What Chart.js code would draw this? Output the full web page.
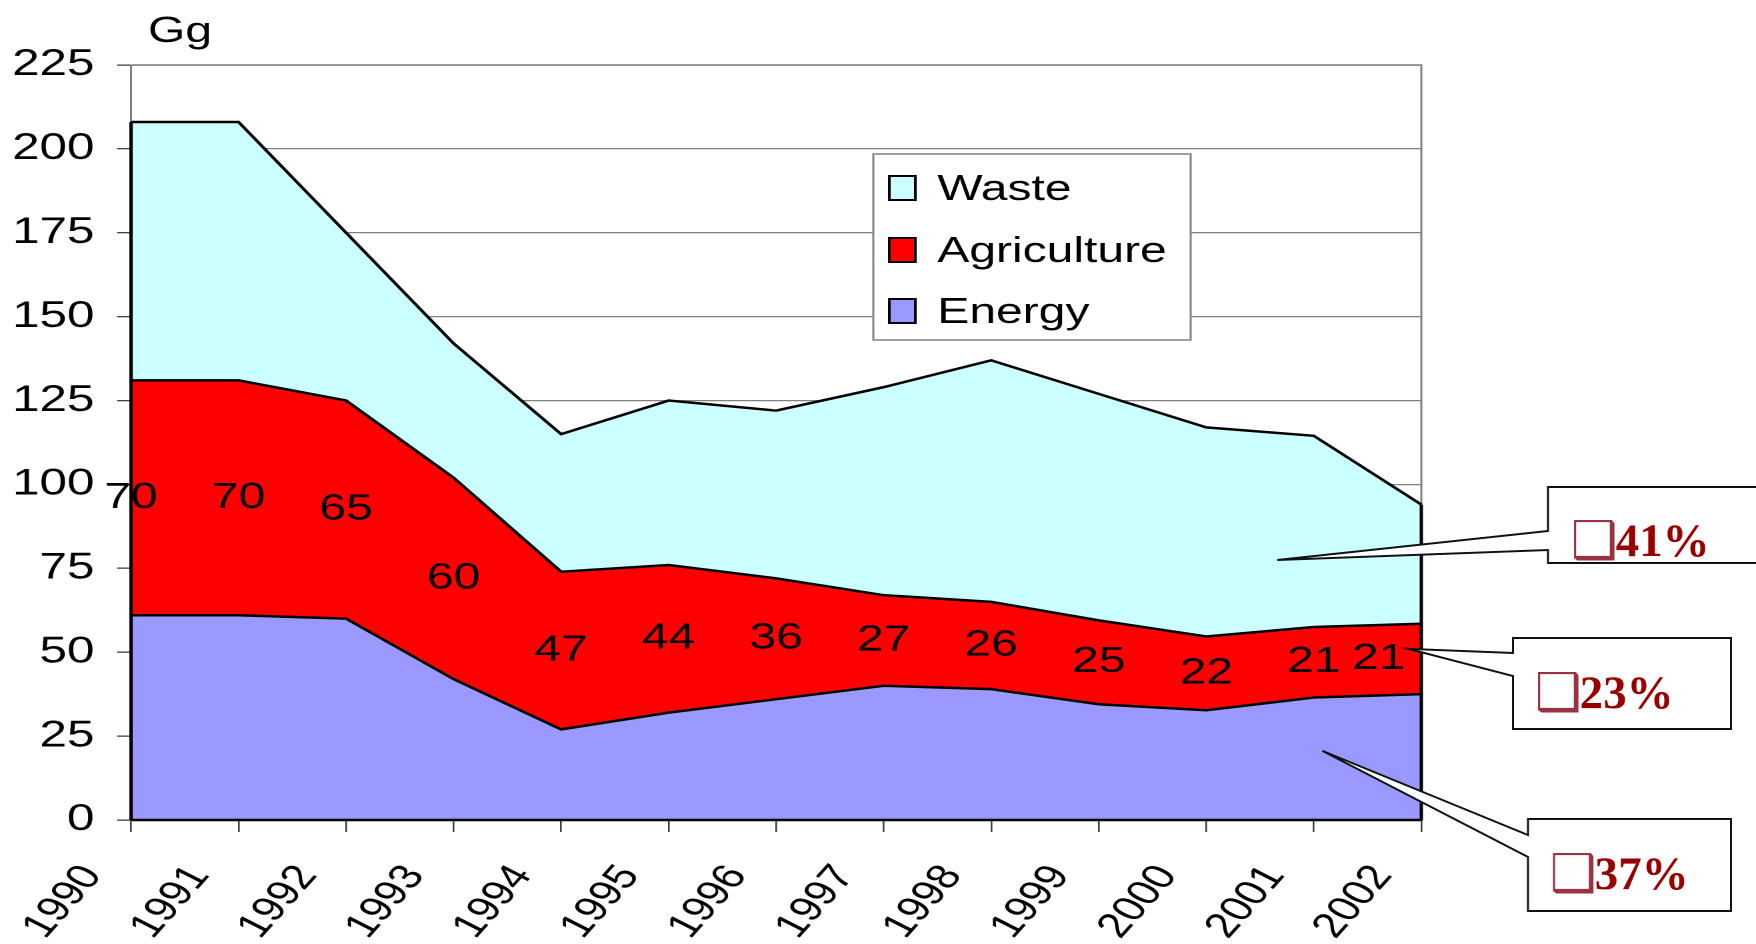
<!DOCTYPE html>
<html>
<head>
<meta charset="utf-8">
<script src="https://cdn.jsdelivr.net/npm/chart.js@4/dist/chart.umd.min.js"></script>
<style>
html,body{margin:0;padding:0;background:#fff;overflow:hidden}
canvas{display:block}
</style>
</head>
<body>
<canvas id="c" width="1317" height="944" style="width:1756px;height:944px"></canvas>
<script>
// ---- data ----
const years = ['1990','1991','1992','1993','1994','1995','1996','1997','1998','1999','2000','2001','2002'];
const energy = [61, 61, 60, 42, 27, 32, 36, 40, 39, 34.5, 32.7, 36.5, 37.5];
const agriculture = [70, 70, 65, 60, 47, 44, 36, 27, 26, 25, 22, 21, 21];
const waste = [77, 77, 50, 40, 41, 49, 50, 62, 72, 67.5, 62.3, 57, 35.5];
const seriesNames = ['Energy', 'Agriculture', 'Waste'];
const shareLabels = ['41%', '23%', '37%'];
const yTicks = [0, 25, 50, 75, 100, 125, 150, 175, 200, 225];
const unitLabel = 'Gg';

// ---- layout / styles ----
const S = 1756 / 1317; // the chart picture is stretched horizontally
const FONT = '"Liberation Sans", Arial, sans-serif';
const colors = ['#9999FF', '#FF0000', '#CCFFFF'];
// callouts (in display pixels), tip anchors in data units (category index, value)
const calloutLayout = [
  {tipIdx: 10.66, tipVal: 77.5, L: 1548, T: 487, R: 1800, B: 563, yUp: 531, yLow: 550, tx: 1571, ty: 556},
  {tipIdx: 11.88, tipVal: 51,   L: 1513, T: 638, R: 1731, B: 729, yUp: 653, yLow: 676, tx: 1535, ty: 708},
  {tipIdx: 11.08, tipVal: 20.6, L: 1528, T: 819, R: 1731, B: 911, yUp: 835, yLow: 857, tx: 1550, ty: 889}
];

const overlay = {
  id: 'overlay',
  beforeDatasetsDraw(chart) {
    const {ctx, chartArea: a} = chart;
    ctx.save();
    ctx.strokeStyle = '#808080';
    ctx.lineWidth = 1.5;
    ctx.beginPath();
    ctx.moveTo(a.left, a.top); ctx.lineTo(a.right, a.top); ctx.lineTo(a.right, a.bottom);
    ctx.stroke();
    ctx.restore();
  },
  afterDatasetsDraw(chart) {
    const {ctx, chartArea: a, scales: {x, y}} = chart;
    ctx.save();
    ctx.strokeStyle = '#000';
    ctx.lineWidth = 2.5;
    [0, years.length - 1].forEach(i => {
      const px = x.getPixelForValue(i);
      const tot = energy[i] + agriculture[i] + waste[i];
      ctx.beginPath();
      ctx.moveTo(px, y.getPixelForValue(0));
      ctx.lineTo(px, y.getPixelForValue(tot));
      ctx.stroke();
    });
    ctx.beginPath();
    ctx.moveTo(a.left, a.bottom); ctx.lineTo(a.right, a.bottom);
    ctx.stroke();
    // data labels (agriculture values)
    ctx.font = '36px ' + FONT;
    ctx.fillStyle = '#000';
    ctx.textAlign = 'center';
    ctx.textBaseline = 'middle';
    agriculture.forEach((v, i) => {
      let px = x.getPixelForValue(i);
      const py = y.getPixelForValue(energy[i] + v / 2);
      const t = String(v);
      const w = ctx.measureText(t).width;
      if (px + w / 2 > a.right - 12) px = a.right - 12 - w / 2;
      ctx.fillText(t, px, py);
    });
    ctx.restore();
  },
  afterDraw(chart) {
    const {ctx, scales: {x, y}} = chart;
    ctx.save();
    // unit label
    ctx.font = '36px ' + FONT;
    ctx.fillStyle = '#000';
    ctx.textAlign = 'center';
    ctx.textBaseline = 'alphabetic';
    ctx.fillText(unitLabel, 135, 42);
    // legend
    const lx = 655, ly = 154, lw = 238, lh = 186;
    ctx.fillStyle = '#fff';
    ctx.fillRect(lx, ly, lw, lh);
    ctx.strokeStyle = '#808080';
    ctx.lineWidth = 1.5;
    ctx.strokeRect(lx, ly, lw, lh);
    const order = [2, 1, 0];
    const baselines = [200, 262, 323];
    order.forEach((di, k) => {
      const ds = chart.data.datasets[di];
      const b = baselines[k];
      ctx.fillStyle = ds.backgroundColor;
      ctx.fillRect(667, b - 24, 19.5, 24);
      ctx.strokeStyle = '#000';
      ctx.lineWidth = 2;
      ctx.strokeRect(667, b - 24, 19.5, 24);
      ctx.fillStyle = '#000';
      ctx.textAlign = 'left';
      ctx.font = '36px ' + FONT;
      ctx.fillText(ds.label, 703, b);
    });
    ctx.restore();

    // callouts drawn unstretched (display pixel coordinates)
    ctx.save();
    ctx.scale(1 / S, 1);
    calloutLayout.forEach((c, i) => {
      const tipX = x.getPixelForValue(c.tipIdx) * S;
      const tipY = y.getPixelForValue(c.tipVal);
      ctx.beginPath();
      ctx.moveTo(c.L, c.T);
      ctx.lineTo(c.R, c.T);
      ctx.lineTo(c.R, c.B);
      ctx.lineTo(c.L, c.B);
      ctx.lineTo(c.L, c.yLow);
      ctx.lineTo(tipX, tipY);
      ctx.lineTo(c.L, c.yUp);
      ctx.closePath();
      ctx.fillStyle = '#fff';
      ctx.fill();
      ctx.strokeStyle = '#111';
      ctx.lineWidth = 2;
      ctx.lineJoin = 'miter';
      ctx.stroke();
      ctx.textAlign = 'left';
      ctx.textBaseline = 'alphabetic';
      ctx.font = 'bold 52px "DejaVu Sans"';
      ctx.fillStyle = '#993344';
      ctx.fillText('\u2751', c.tx, c.ty + 2);
      const gw = ctx.measureText('\u2751').width;
      ctx.font = 'bold 47px "Liberation Serif", "Times New Roman", serif';
      ctx.fillStyle = '#990000';
      ctx.fillText(shareLabels[i], c.tx + gw - 2, c.ty);
    });
    ctx.restore();
  }
};

const series = [energy, agriculture, waste];
new Chart(document.getElementById('c'), {
  type: 'line',
  data: {
    labels: years,
    datasets: series.map((d, i) => ({
      label: seriesNames[i],
      data: d,
      backgroundColor: colors[i],
      borderColor: '#000',
      borderWidth: 2.5,
      pointRadius: 0,
      tension: 0,
      fill: i === 0 ? 'origin' : '-1',
      clip: 6
    }))
  },
  options: {
    responsive: false,
    devicePixelRatio: 2,
    animation: false,
    layout: {padding: {left: 0, top: 65, right: 251, bottom: 0}},
    plugins: {legend: {display: false}, tooltip: {enabled: false}, title: {display: false}},
    scales: {
      x: {
        offset: false,
        ticks: {autoSkip: false, minRotation: 56, maxRotation: 56, color: '#000',
                font: {family: FONT, size: 35}, padding: 26, labelOffset: -29},
        grid: {drawOnChartArea: false, tickLength: 12, color: '#404040', lineWidth: 1.3},
        border: {color: '#000', width: 2},
        afterFit(s) { s.height = 124; }
      },
      y: {
        stacked: true,
        min: 0, max: 225,
        afterBuildTicks(s) { s.ticks = yTicks.map(v => ({value: v})); },
        ticks: {color: '#000', font: {family: FONT, size: 37}, padding: 17},
        grid: {color: '#808080', lineWidth: 1.3, tickLength: 10.5, tickColor: '#404040'},
        border: {color: '#808080', width: 1.5},
        afterFit(s) { s.width = 98.3; }
      }
    }
  },
  plugins: [overlay]
});
</script>
</body>
</html>
